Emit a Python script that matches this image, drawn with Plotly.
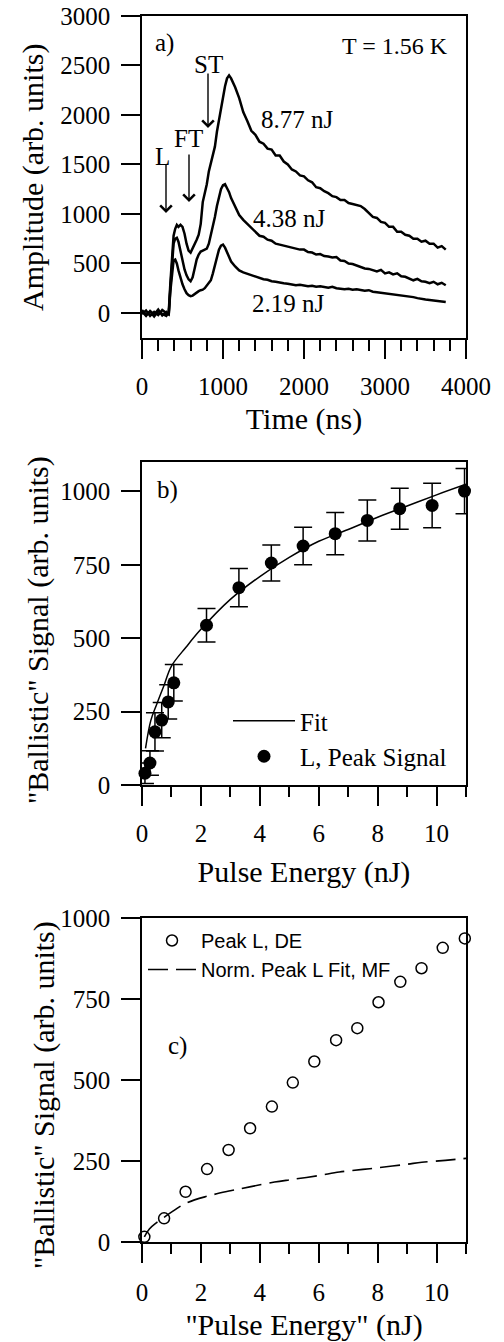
import plotly.graph_objects as go

# ---------------- Panel a: time traces ----------------
time_ns = [0, 50, 100, 150, 200, 250, 300, 330, 350, 370, 390, 410, 430, 450,
           475, 500, 525, 550, 575, 600, 625, 650, 675, 700, 725, 750, 775, 800,
           825, 850, 875, 900, 925, 950, 975, 1000, 1025, 1050, 1075, 1100,
           1150, 1200, 1250, 1300, 1350, 1400, 1450, 1500, 1550, 1600, 1650, 1700,
           1750, 1800, 1850, 1900, 1950, 2000, 2050, 2100, 2150, 2200, 2250, 2300,
           2350, 2400, 2450, 2500, 2550, 2600, 2650, 2700, 2750, 2800, 2850, 2900,
           2950, 3000, 3050, 3100, 3150, 3200, 3250, 3300, 3350, 3400, 3450, 3500,
           3550, 3600, 3650, 3700, 3750]

amp_877 = [30, -20, 15, -35, 20, -10, -30, 10,
           300, 600, 780, 850, 890, 870,
           890, 870, 800, 700, 630, 610, 650, 700, 740, 790, 900, 1120, 1200, 1300,
           1430, 1520, 1580, 1680, 1830, 1950, 2080, 2190, 2290, 2370, 2400, 2370,
           2280, 2170, 2030, 1940, 1840, 1800, 1730, 1710, 1660, 1650,
           1590, 1590, 1530, 1500, 1450, 1430, 1390, 1380, 1340, 1320,
           1270, 1260, 1230, 1210, 1180, 1170, 1140, 1140, 1110, 1100,
           1090, 1080, 1050, 1010, 970, 960, 920, 910, 870, 870,
           820, 820, 790, 780, 750, 750, 720, 730, 700, 700,
           660, 675, 640]

amp_438 = [-10, 25, -30, 10, -20, 30, 0, -15,
           250, 520, 700, 750, 760, 720,
           620, 520, 440, 380, 340, 320, 360, 450, 540, 590, 620, 630, 640, 650,
           700, 780, 880, 970, 1080, 1180, 1250, 1290, 1300, 1260, 1220, 1160,
           1070, 990, 940, 900, 850, 810, 780, 770, 740, 730,
           700, 690, 680, 665, 660, 650, 640, 640, 615, 610,
           590, 595, 575, 570, 560, 565, 530, 525, 500, 495,
           480, 470, 450, 445, 430, 420, 435, 400, 410, 390,
           400, 370, 365, 350, 330, 345, 320, 315, 300, 315,
           290, 305, 280]

amp_219 = [15, -30, 20, -15, 35, -25, 10, -20,
           220, 420, 530, 540, 500, 430,
           350, 290, 240, 200, 180, 170, 175, 190, 210, 220, 230, 235, 250, 280,
           300, 330, 400, 480, 570, 640, 680, 690, 660, 610, 560, 520,
           470, 430, 410, 395, 380, 365, 350, 340, 335, 320,
           315, 305, 300, 295, 290, 280, 285, 275, 270, 275,
           265, 270, 260, 255, 265, 250, 245, 240, 245, 235,
           240, 230, 225, 230, 215, 210, 205, 200, 195, 190,
           185, 180, 170, 165, 160, 150, 140, 135, 130, 125,
           120, 120, 110]

# ---------------- Panel b: ballistic signal vs pulse energy ----------------
energy_b = [0.10, 0.27, 0.44, 0.67, 0.89, 1.08, 2.19, 3.29, 4.39, 5.47, 6.56,
            7.65, 8.75, 9.85, 10.95]
signal_b = [40, 75, 181, 221, 283, 348, 544, 672, 756, 814, 856, 901, 941, 952, 1001]
err_b = [35, 42, 65, 60, 58, 62, 57, 65, 61, 64, 72, 70, 70, 76, 77]

fit_x = [0.12, 0.3, 0.5, 0.75, 1.0, 1.5, 2.0, 3.0, 4.0, 5.0, 6.0, 7.0, 8.0, 9.0, 10.0, 11.0]
fit_y = [125, 220, 275, 340, 405, 470, 530, 632, 710, 775, 830, 870, 912, 950, 988, 1024]

# ---------------- Panel c ----------------
energy_c = [0.08, 0.75, 1.48, 2.21, 2.94, 3.67, 4.41, 5.12, 5.85, 6.59, 7.31,
            8.03, 8.77, 9.49, 10.21, 10.96]
signal_c = [16, 73, 155, 225, 284, 351, 418, 492, 557, 623, 660, 740, 803, 845, 908, 937]

mf_x = [0.08, 0.25, 0.5, 0.75, 1.0, 1.5, 2.2, 3.0, 3.7, 4.5, 5.1, 6.0, 6.7, 7.5,
        8.0, 9.0, 9.5, 10.3, 11.0]
mf_y = [16, 40, 60, 76, 92, 120, 141, 158, 171, 185, 193, 205, 216, 224,
        229, 240, 246, 252, 258]

SERIF = "Liberation Serif"
SANS = "Liberation Sans"
W, H = 504, 1342

def px_x(p):
    return p / W

def px_y(p):
    return 1 - p / H

fig = go.Figure()

# panel a traces
for amp in (amp_877, amp_438, amp_219):
    fig.add_trace(go.Scatter(x=time_ns, y=amp, mode="lines",
                             line=dict(color="black", width=2.5),
                             xaxis="x", yaxis="y", showlegend=False))

# panel b
fig.add_trace(go.Scatter(x=fit_x, y=fit_y, mode="lines", name="Fit",
                         line=dict(color="black", width=1.5, shape="spline"),
                         xaxis="x2", yaxis="y2", legend="legend"))
fig.add_trace(go.Scatter(x=energy_b, y=signal_b, mode="markers", showlegend=False,
                         marker=dict(size=1, color="rgba(0,0,0,0)"),
                         error_y=dict(type="data", array=err_b, color="black",
                                      thickness=1.5, width=9),
                         xaxis="x2", yaxis="y2", cliponaxis=False))
fig.add_trace(go.Scatter(x=energy_b, y=signal_b, mode="markers", name="L, Peak Signal",
                         marker=dict(size=13, color="black"),
                         xaxis="x2", yaxis="y2", cliponaxis=False, legend="legend"))

# panel c
fig.add_trace(go.Scatter(x=energy_c, y=signal_c, mode="markers", name="Peak L, DE",
                         marker=dict(size=11, color="white", symbol="circle",
                                     line=dict(color="black", width=1.5)),
                         xaxis="x3", yaxis="y3", cliponaxis=False, legend="legend2"))
fig.add_trace(go.Scatter(x=mf_x, y=mf_y, mode="lines", name="Norm. Peak L Fit, MF",
                         line=dict(color="black", width=1.6, dash="20px,8px", shape="spline"),
                         xaxis="x3", yaxis="y3", legend="legend2"))

xdom = [px_x(142), px_x(466)]
tickfont = dict(family=SERIF, size=25, color="black")

def axis(**kw):
    d = dict(showline=True, linecolor="black", linewidth=1.5, mirror=True,
             ticks="outside", tickcolor="black", tickwidth=1.5, ticklen=19,
             showgrid=False, zeroline=False, tickfont=tickfont,
             ticklabelstandoff=6, automargin=False)
    d.update(kw)
    return d

minor_a = dict(dtick=200, ticklen=11, ticks="outside", tickcolor="black", tickwidth=1.5)
minor_e = dict(dtick=1, ticklen=10, ticks="outside", tickcolor="black", tickwidth=1.5)
title_font = dict(family=SERIF, size=30, color="black")

fig.update_layout(
    width=W, height=H,
    margin=dict(l=0, r=0, t=0, b=0, autoexpand=False),
    paper_bgcolor="white", plot_bgcolor="white",
    xaxis=axis(domain=xdom, range=[0, 4000], tickvals=[0, 1000, 2000, 3000, 4000],
               minor=minor_a, anchor="y",
               title=dict(text="Time (ns)", font=title_font, standoff=9)),
    yaxis=axis(domain=[px_y(338), px_y(16)], range=[-253, 3000],
               tickvals=[0, 500, 1000, 1500, 2000, 2500, 3000], anchor="x"),
    xaxis2=axis(domain=xdom, range=[0, 11], tickvals=[0, 2, 4, 6, 8, 10],
                minor=minor_e, anchor="y2",
                title=dict(text="Pulse Energy (nJ)", font=title_font, standoff=15)),
    yaxis2=axis(domain=[px_y(785), px_y(462)], range=[0, 1100],
                tickvals=[0, 250, 500, 750, 1000], anchor="x2"),
    xaxis3=axis(domain=xdom, range=[0, 11], tickvals=[0, 2, 4, 6, 8, 10],
                minor=minor_e, anchor="y3", ticklabelstandoff=8,
                title=dict(text='"Pulse Energy" (nJ)', font=title_font, standoff=11)),
    yaxis3=axis(domain=[px_y(1242), px_y(918)], range=[0, 1000],
                tickvals=[0, 250, 500, 750, 1000], anchor="x3"),
    legend=dict(x=px_x(228), y=px_y(698), xanchor="left", yanchor="top",
                bgcolor="rgba(0,0,0,0)", font=dict(family=SERIF, size=25, color="black"),
                itemwidth=62, tracegroupgap=0),
    legend2=dict(x=px_x(143), y=px_y(921), xanchor="left", yanchor="top",
                 bgcolor="rgba(0,0,0,0)", font=dict(family=SANS, size=20, color="black"),
                 itemwidth=48, tracegroupgap=0),
)

ann = []
def txt(text, x, y, xref, yref, size=25, family=SERIF, **kw):
    d = dict(text=text, x=x, y=y, xref=xref, yref=yref, showarrow=False,
             font=dict(family=family, size=size, color="black"),
             xanchor="center", yanchor="middle")
    d.update(kw)
    ann.append(d)

# panel a labels (positions in axis-domain fractions)
def xd(p):
    return (p - 142) / 324

def yda(p):
    return (338 - p) / 322

txt("a)", xd(164), yda(43), "x domain", "y domain")
txt("T = 1.56 K", xd(395), yda(46), "x domain", "y domain", size=24)
txt("8.77 nJ", xd(297), yda(120), "x domain", "y domain")
txt("4.38 nJ", xd(289), yda(219), "x domain", "y domain")
txt("2.19 nJ", xd(288), yda(304), "x domain", "y domain")
txt("L", xd(162), yda(157), "x domain", "y domain")
txt("FT", xd(188), yda(138), "x domain", "y domain")
txt("ST", xd(208), yda(65), "x domain", "y domain")

for tip_x, tip_y, tail_y in [(166, 213, 163), (189, 202, 153), (208, 128, 72)]:
    ann.append(dict(text="", x=xd(tip_x), y=yda(tip_y), xref="x domain", yref="y domain",
                    showarrow=True, ax=0, ay=-(tip_y - tail_y), arrowhead=4,
                    arrowsize=1.6, arrowwidth=1.4, arrowcolor="black"))

# panel labels b, c
txt("b)", xd(167), (785 - 490) / 323, "x2 domain", "y2 domain")
txt("c)", xd(177), (1242 - 1046) / 324, "x3 domain", "y3 domain")

# y axis titles
txt("Amplitude (arb. units)", px_x(33), px_y(178), "paper", "paper", size=30, textangle=-90)
txt('"Ballistic" Signal (arb. units)', px_x(38), px_y(630), "paper", "paper", size=30, textangle=-90)
txt('"Ballistic" Signal (arb. units)', px_x(44), px_y(1095), "paper", "paper", size=30, textangle=-90)

fig.update_layout(annotations=ann)
fig.write_html("out.html", config={"displayModeBar": False},
               post_script="document.body.style.margin='0';document.body.style.overflow='hidden';")
